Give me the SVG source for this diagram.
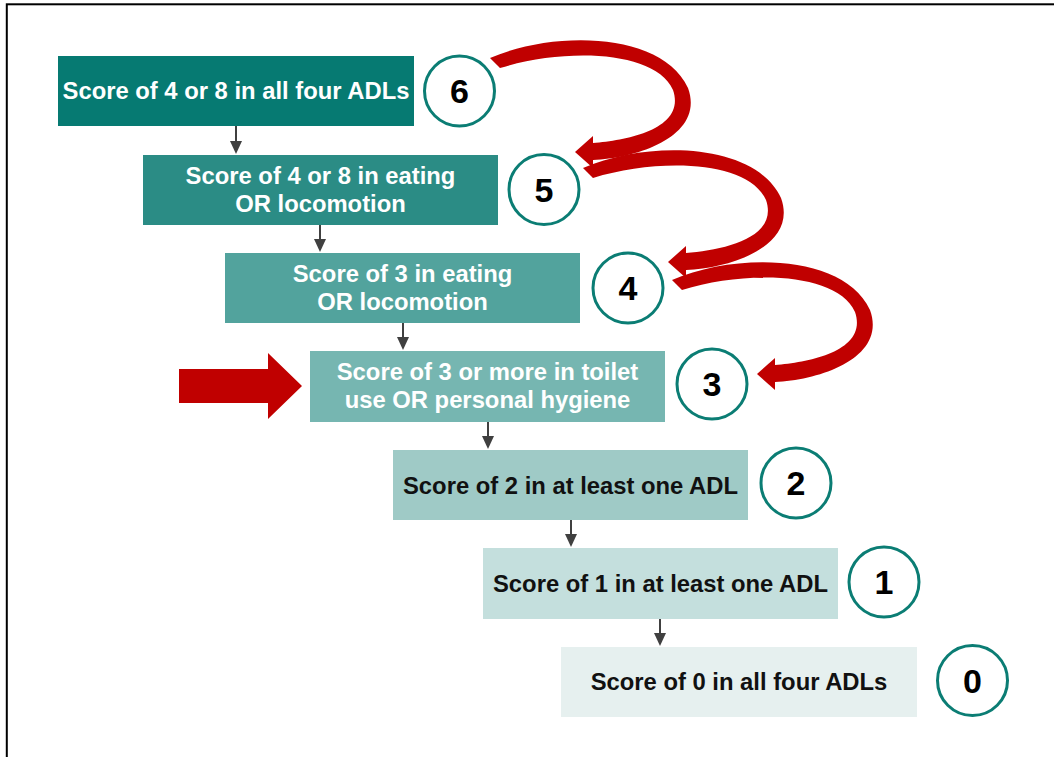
<svg xmlns="http://www.w3.org/2000/svg" width="1054" height="757" viewBox="0 0 1054 757">
  <style>
    .box-text { font-family: "Liberation Sans", Arial, sans-serif; font-weight: bold; font-size: 23.8px; text-anchor: middle; }
    .light { fill: #ffffff; }
    .dark { fill: #111111; }
    .badge { fill: #ffffff; stroke: #0b7d74; stroke-width: 3; }
    .badge-text { font-family: "Liberation Sans", Arial, sans-serif; font-weight: bold; font-size: 34px; text-anchor: middle; fill: #000000; }
    .step { stroke: #404040; stroke-width: 2; fill: none; }
    .step-head { fill: #404040; }
    .jump { fill: #c00000; }
  </style>
  <defs>
    <!-- curved red jump arrow (tapered body + head), drawn once and reused for each level -->
    <g id="jump-arrow">
      <path class="jump" d="M490,58 C555,30 662,32 688,88 C705,135 640,158 593,160 L593,143 C630,140 686,128 673,90 C655,50 565,48 500,68 Z"/>
      <polygon class="jump" points="575,152 593,136 593,168"/>
    </g>
  </defs>

  <rect width="1054" height="757" fill="#ffffff"/>
  <!-- outer frame -->
  <rect x="6.8" y="4.3" width="1100" height="800" fill="none" stroke="#000000" stroke-width="2"/>

  <!-- connectors -->
  <g id="connectors">
    <path class="step" d="M236,126 V141"/>
    <polygon class="step-head" points="230,141 242,141 236,154"/>
    <path class="step" d="M320,225 V239"/>
    <polygon class="step-head" points="314,239 326,239 320,252"/>
    <path class="step" d="M403,323 V337"/>
    <polygon class="step-head" points="397,337 409,337 403,350"/>
    <path class="step" d="M488,422 V436"/>
    <polygon class="step-head" points="482,436 494,436 488,449"/>
    <path class="step" d="M571,520 V534"/>
    <polygon class="step-head" points="565,534 577,534 571,547"/>
    <path class="step" d="M660,619 V633"/>
    <polygon class="step-head" points="654,633 666,633 660,646"/>

    <use href="#jump-arrow"/>
    <use href="#jump-arrow" transform="translate(93,110)"/>
    <use href="#jump-arrow" transform="translate(182,222)"/>

    <!-- block arrow marking the current level -->
    <polygon class="jump" points="179,369 268,369 268,353 302,386 268,419 268,403 179,403"/>
  </g>

  <!-- level 6 -->
  <g id="level-6">
    <rect x="58" y="56" width="356" height="70" fill="#067a72"/>
    <text class="box-text light" x="236" y="99">Score of 4 or 8 in all four ADLs</text>
    <circle class="badge" cx="459.5" cy="91" r="35"/>
    <text class="badge-text" x="459.5" y="103">6</text>
  </g>

  <!-- level 5 -->
  <g id="level-5">
    <rect x="143" y="155" width="355" height="70" fill="#2b8c85"/>
    <text class="box-text light" x="320.5" y="184">Score of 4 or 8 in eating</text>
    <text class="box-text light" x="320.5" y="212">OR locomotion</text>
    <circle class="badge" cx="544" cy="189.5" r="35"/>
    <text class="badge-text" x="544" y="201.5">5</text>
  </g>

  <!-- level 4 -->
  <g id="level-4">
    <rect x="225" y="253" width="355" height="70" fill="#52a39d"/>
    <text class="box-text light" x="402.5" y="282">Score of 3 in eating</text>
    <text class="box-text light" x="402.5" y="310">OR locomotion</text>
    <circle class="badge" cx="628" cy="288" r="35"/>
    <text class="badge-text" x="628" y="300">4</text>
  </g>

  <!-- level 3 -->
  <g id="level-3">
    <rect x="310" y="351" width="355" height="71" fill="#76b6b1"/>
    <text class="box-text light" x="487.5" y="380">Score of 3 or more in toilet</text>
    <text class="box-text light" x="487.5" y="408">use OR personal hygiene</text>
    <circle class="badge" cx="712" cy="384" r="35"/>
    <text class="badge-text" x="712" y="396">3</text>
  </g>

  <!-- level 2 -->
  <g id="level-2">
    <rect x="393" y="450" width="355" height="70" fill="#9fcac6"/>
    <text class="box-text dark" x="570.5" y="493.5">Score of 2 in at least one ADL</text>
    <circle class="badge" cx="796" cy="483" r="35"/>
    <text class="badge-text" x="796" y="495">2</text>
  </g>

  <!-- level 1 -->
  <g id="level-1">
    <rect x="483" y="548" width="355" height="71" fill="#c4dfdd"/>
    <text class="box-text dark" x="660.5" y="592">Score of 1 in at least one ADL</text>
    <circle class="badge" cx="884" cy="582" r="35"/>
    <text class="badge-text" x="884" y="594">1</text>
  </g>

  <!-- level 0 -->
  <g id="level-0">
    <rect x="561" y="647" width="356" height="70" fill="#e6f0ef"/>
    <text class="box-text dark" x="739" y="690">Score of 0 in all four ADLs</text>
    <circle class="badge" cx="972.5" cy="680.5" r="35"/>
    <text class="badge-text" x="972.5" y="692.5">0</text>
  </g>
</svg>
